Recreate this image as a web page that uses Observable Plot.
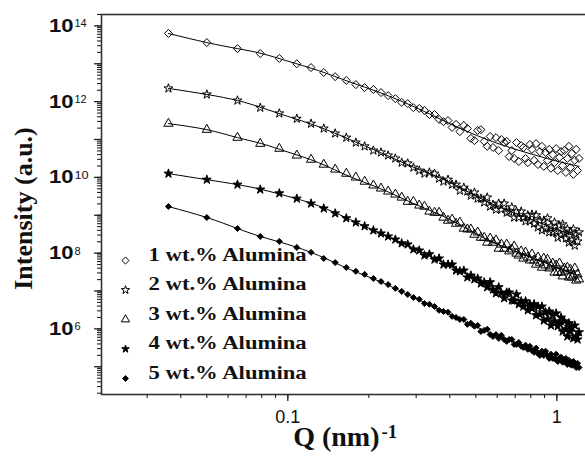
<!DOCTYPE html>
<html><head><meta charset="utf-8">
<script src="https://cdn.jsdelivr.net/npm/d3@7"></script>
<script src="https://cdn.jsdelivr.net/npm/@observablehq/plot@0.6"></script>
<style>body{margin:0;background:#fff} #chart{width:585px;height:464px;overflow:hidden}</style>
</head><body><div id="chart"></div>
<script>
// Q values (nm^-1) shared by all five measured curves
const q = [0.036,0.050,0.065,0.079,0.093,0.108,0.122,0.136,0.150,0.165,
0.179,0.193,0.208,0.222,0.236,0.251,0.265,0.279,0.293,0.308,
0.322,0.336,0.351,0.365,0.379,0.394,0.408,0.422,0.436,0.451,
0.465,0.479,0.494,0.508,0.522,0.537,0.551,0.565,0.579,0.594,
0.608,0.622,0.637,0.651,0.665,0.680,0.694,0.708,0.722,0.737,
0.751,0.765,0.780,0.794,0.808,0.823,0.837,0.851,0.865,0.880,
0.894,0.908,0.923,0.937,0.951,0.966,0.980,0.994,1.008,1.023,
1.037,1.051,1.066,1.080,1.094,1.109,1.123,1.137,1.152,1.166,
1.180,1.194,1.209];

// log10 of intensity (a.u.)
const log1wt = [13.80,13.56,13.40,13.27,13.14,13.00,12.90,12.77,12.66,12.56,
12.45,12.37,12.32,12.24,12.16,12.08,11.98,11.95,11.84,11.82,
11.77,11.66,11.66,11.53,11.47,11.50,11.32,11.40,11.21,11.37,
11.29,11.03,10.97,11.24,11.26,10.95,10.82,11.08,10.79,11.05,
10.71,11.00,10.92,10.95,10.55,10.71,10.50,10.92,10.42,10.84,
10.79,10.50,10.39,10.87,10.74,10.45,10.89,10.34,10.68,10.82,
10.29,10.66,10.45,10.74,10.24,10.60,10.39,10.76,10.18,10.53,
10.68,10.31,10.71,10.13,10.50,10.82,10.26,10.63,10.08,10.45,
10.74,10.18,10.50];
const log2wt = [12.35,12.19,12.03,11.84,11.69,11.55,11.42,11.29,11.16,11.05,
10.92,10.82,10.71,10.66,10.58,10.50,10.39,10.37,10.26,10.18,
10.10,10.13,10.10,9.97,9.89,9.94,9.81,9.81,9.65,9.73,
9.63,9.52,9.60,9.44,9.44,9.34,9.47,9.23,9.28,9.15,
9.31,9.15,9.31,9.07,9.10,9.21,8.94,9.10,8.94,9.10,
8.94,8.84,9.00,8.84,9.02,8.78,9.00,8.68,8.86,8.60,
8.86,8.65,8.92,8.55,8.71,8.55,8.81,8.57,8.41,8.73,
8.47,8.76,8.52,8.39,8.63,8.28,8.57,8.34,8.63,8.20,
8.49,8.31,8.55];
const log3wt = [11.42,11.26,11.05,10.89,10.76,10.58,10.47,10.34,10.21,10.10,
10.00,9.89,9.79,9.71,9.63,9.55,9.47,9.36,9.36,9.26,
9.23,9.10,9.07,9.07,8.94,8.86,8.89,8.78,8.81,8.65,
8.63,8.63,8.49,8.55,8.41,8.41,8.28,8.39,8.28,8.34,
8.12,8.23,8.12,8.23,8.05,8.10,8.18,7.99,7.94,8.05,
7.86,8.02,7.89,7.81,7.97,7.81,7.70,7.89,7.75,7.62,
7.86,7.68,7.83,7.60,7.65,7.73,7.49,7.68,7.49,7.73,
7.49,7.39,7.60,7.52,7.62,7.36,7.57,7.36,7.41,7.60,
7.28,7.44,7.31];
const log4wt = [10.10,9.94,9.81,9.68,9.58,9.44,9.31,9.18,9.05,8.92,
8.81,8.71,8.60,8.52,8.44,8.36,8.26,8.23,8.10,8.07,
7.94,7.97,7.83,7.86,7.70,7.70,7.70,7.54,7.52,7.54,
7.36,7.41,7.31,7.33,7.20,7.23,7.10,7.23,7.04,6.94,
7.10,6.94,6.81,6.96,6.96,6.75,6.75,6.91,6.65,6.73,
6.59,6.73,6.49,6.65,6.54,6.65,6.36,6.59,6.38,6.59,
6.22,6.44,6.25,6.46,6.09,6.36,6.20,6.41,6.07,6.15,
6.30,5.93,6.20,5.99,5.80,6.15,5.93,6.04,5.75,6.09,
5.80,5.72,5.91];
const log5wt = [9.23,8.94,8.65,8.44,8.31,8.15,8.02,7.86,7.75,7.62,
7.52,7.44,7.33,7.25,7.17,7.07,6.99,6.91,6.83,6.78,
6.67,6.65,6.59,6.49,6.46,6.44,6.33,6.30,6.25,6.25,
6.12,6.15,6.07,6.09,5.93,5.96,5.99,5.85,5.80,5.85,
5.75,5.83,5.72,5.67,5.72,5.72,5.59,5.59,5.64,5.54,
5.51,5.57,5.46,5.54,5.43,5.38,5.49,5.35,5.30,5.41,
5.30,5.41,5.30,5.22,5.33,5.22,5.22,5.33,5.14,5.22,
5.25,5.12,5.14,5.22,5.06,5.17,5.06,5.04,5.14,5.06,
4.98,5.09,4.98];

// fitted curves (log10 intensity) at these Q values
const fitQ = [0.036,0.050,0.065,0.080,0.100,0.130,0.170,0.220,0.300,0.400,0.550,0.750,1.000,1.210];
const fit1wt = [13.80,13.56,13.40,13.27,13.07,12.82,12.52,12.24,11.84,11.42,11.00,10.68,10.43,10.29];
const fit2wt = [12.35,12.19,12.03,11.84,11.61,11.34,11.00,10.66,10.24,9.87,9.36,8.97,8.63,8.41];
const fit3wt = [11.42,11.26,11.05,10.89,10.67,10.39,10.02,9.71,9.28,8.89,8.36,7.97,7.62,7.41];
const fit4wt = [10.10,9.94,9.81,9.68,9.50,9.25,8.89,8.53,8.10,7.66,7.17,6.67,6.21,5.85];
const fit5wt = [9.23,8.94,8.65,8.43,8.23,7.94,7.57,7.25,6.80,6.38,5.93,5.57,5.24,5.04];

const seriesNames = ["1 wt.% Alumina","2 wt.% Alumina","3 wt.% Alumina","4 wt.% Alumina","5 wt.% Alumina"];
const yMajorTicks = [1e5,1e6,1e7,1e8,1e9,1e10,1e11,1e12,1e13,1e14];
const yLabelTicks = [1e6,1e8,1e10,1e12,1e14];
const yLabelExponents = ["6","8","10","12","14"];
const xLabelTicks = [0.1,1];
const xLabelTexts = ["0.1","1"];

const logSeries = [log1wt,log2wt,log3wt,log4wt,log5wt];
const fitSeries = [fit1wt,fit2wt,fit3wt,fit4wt,fit5wt];
logSeries.forEach((s,k)=>{ if (s.length !== q.length) throw new Error("length mismatch series " + (k+1) + ": " + s.length); });

const styles = [
  {symbol:"diamond2", r:3.6, fill:"none", stroke:"black", lr:3.2},
  {symbol:"star", r:2.8, fill:"none", stroke:"black", lr:2.6},
  {symbol:"triangle2", r:4.4, fill:"none", stroke:"black", lr:3.9},
  {symbol:"star", r:2.8, fill:"black", stroke:"black", lr:2.4},
  {symbol:"diamond2", r:2.7, fill:"black", stroke:"black", lr:2.6}
];

const points = logSeries.map((s,k)=> q.map((Q,i)=>({Q, I: 10 ** s[i], series: seriesNames[k]})));
const fits = fitSeries.flatMap((s,k)=> fitQ.map((Q,i)=>({Q, I: 10 ** s[i], series: seriesNames[k]})));

const serif = "'Liberation Serif', 'Times New Roman', serif";
const sans = "'Liberation Sans', Arial, sans-serif";

const marks = [
  Plot.frame({stroke:"#333", strokeWidth:1.6}),
  Plot.axisY({ticks: 40, tickSize: 4, tickFormat: () => "", label: null, stroke:"#222", strokeWidth:1.1}),
  Plot.axisY({ticks: yMajorTicks, tickSize: 7, tickFormat: () => "", label: null, stroke:"#222", strokeWidth:1.3}),
  Plot.axisX({ticks: 30, tickSize: 4, tickFormat: () => "", label: null, stroke:"#222", strokeWidth:1.1}),
  Plot.axisX({ticks: xLabelTicks, tickSize: 7, tickPadding: 9, label: null, tickFormat: d => xLabelTexts[xLabelTicks.indexOf(d)], fontSize: 18, fontFamily: sans, fill:"#111", stroke:"#222", strokeWidth:1.3}),
  Plot.text(yLabelTicks, {y: d=>d, frameAnchor:"left", text: () => "10", dx:-28, textAnchor:"end", fontSize:19, fontWeight:"bold", fontFamily: sans, fill:"#111"}),
  Plot.text(yLabelTicks, {y: d=>d, frameAnchor:"left", text: d => yLabelExponents[yLabelTicks.indexOf(d)], dx:-27, dy:-2, textAnchor:"start", fontSize:11, fontFamily: sans, fill:"#111"}),
  Plot.text(["Intensity (a.u.)"], {frameAnchor:"left", text: d=>d, rotate:-90, dx:-78, dy:4, textAnchor:"middle", fontSize:26, fontWeight:"bold", fontFamily: serif, fill:"#111"}),
  Plot.text(["Q (nm)"], {frameAnchor:"bottom", text: d=>d, dx:35, dy:51, textAnchor:"end", fontSize:28, fontWeight:"bold", fontFamily: serif, fill:"#111"}),
  Plot.text(["-1"], {frameAnchor:"bottom", text: d=>d, dx:37, dy:43, textAnchor:"start", fontSize:19, fontWeight:"bold", fontFamily: serif, fill:"#111"}),
  Plot.line(fits, {x:"Q", y:"I", z:"series", stroke:"black", strokeWidth:1, curve:"natural"})
];
points.forEach((pts,k)=>{
  const st = styles[k];
  marks.push(Plot.dot(pts, {x:"Q", y:"I", symbol: st.symbol, r: st.r, fill: st.fill, stroke: st.stroke, strokeWidth: 1}));
});
seriesNames.forEach((name,k)=>{
  const st = styles[k];
  const dy = -134 + 29.5*k;
  marks.push(Plot.dot([name], {frameAnchor:"bottom-left", dx:24, dy, symbol: st.symbol, r: st.lr, fill: st.fill, stroke: st.stroke, strokeWidth:1}));
  marks.push(Plot.text([name], {frameAnchor:"bottom-left", text: d=>d, dx:47, dy, textAnchor:"start", fontSize:18, fontWeight:"bold", fontFamily: serif, fill:"#111"}));
});

const chart = Plot.plot({
  width: 585, height: 464,
  marginLeft: 101, marginRight: -2, marginTop: 14, marginBottom: 70,
  x: {type:"log", domain:[0.0203, 1.3]},
  y: {type:"log", domain:[1.85e4, 2e14]},
  style: {background:"#fff", color:"#111"},
  marks
});
document.getElementById("chart").appendChild(chart);
// the reference's lettering for the legend and the "10" labels is horizontally widened
chart.querySelectorAll("text").forEach(t => {
  const s = t.textContent;
  const factor = seriesNames.includes(s) ? 1.26 : (s === "10" ? 1.16 : 0);
  if (factor) {
    const w = t.getComputedTextLength();
    t.setAttribute("textLength", (w * factor).toFixed(1));
    t.setAttribute("lengthAdjust", "spacingAndGlyphs");
  }
});
</script>
</body></html>
